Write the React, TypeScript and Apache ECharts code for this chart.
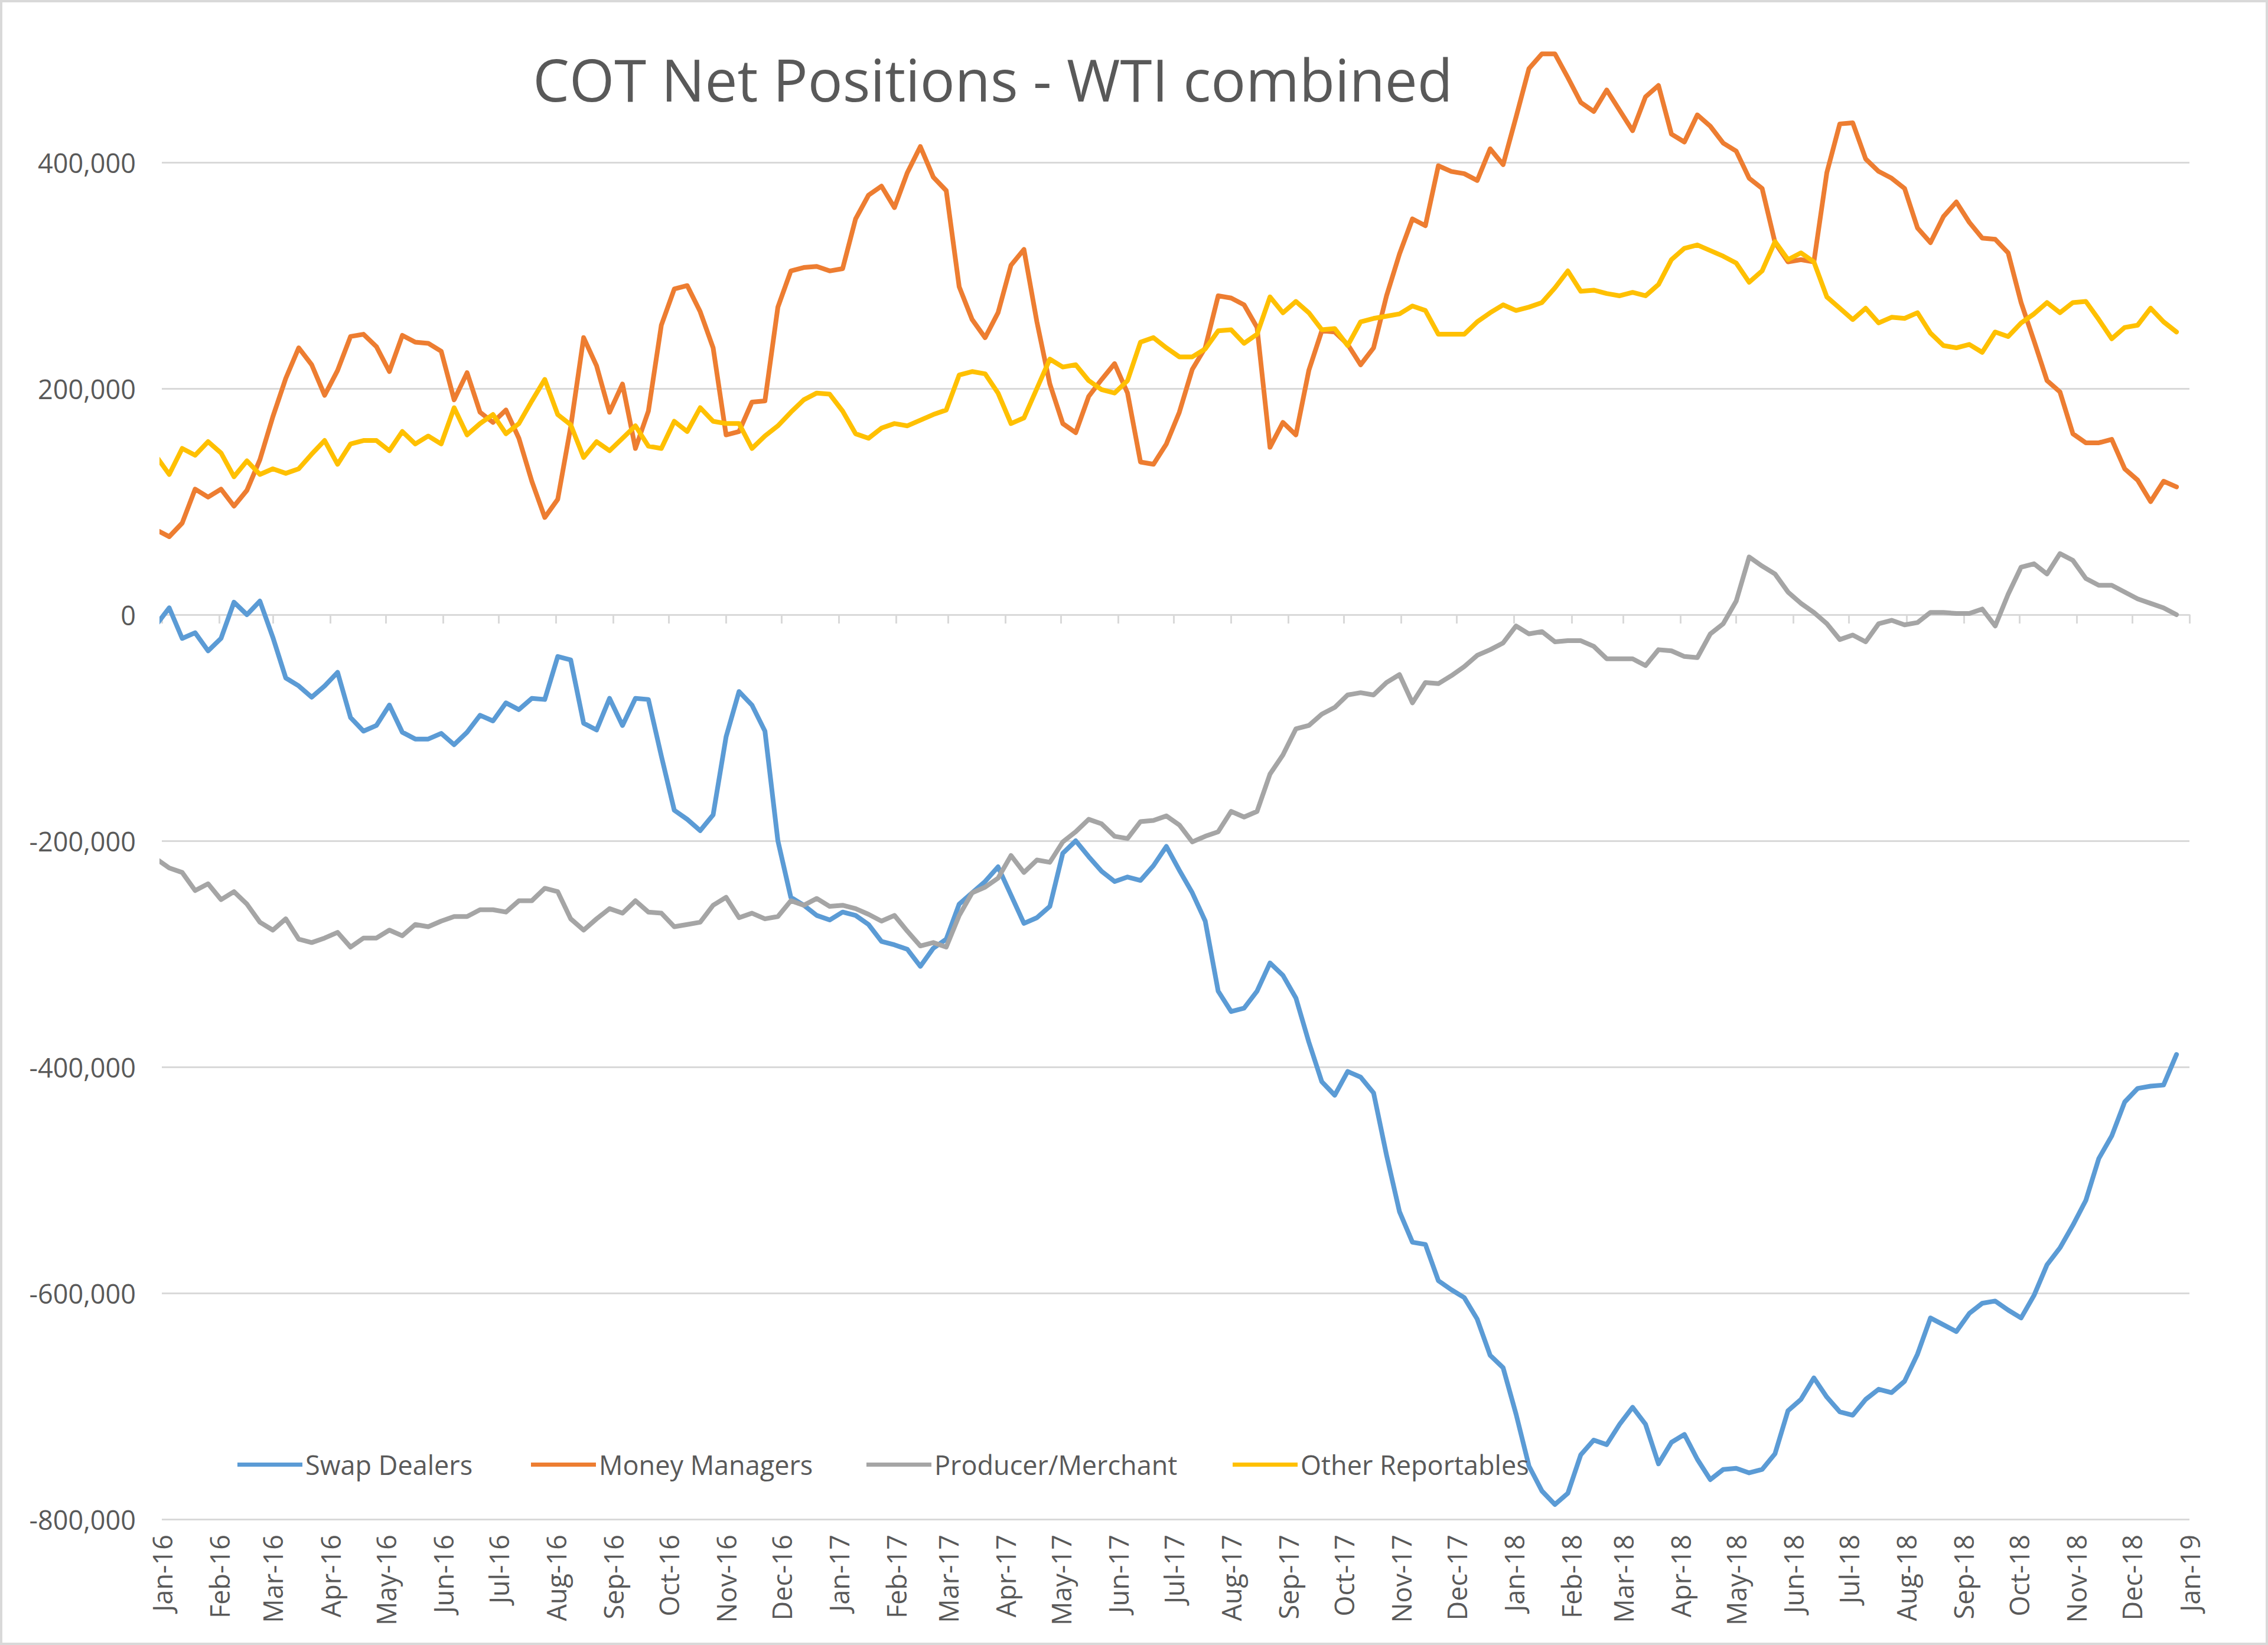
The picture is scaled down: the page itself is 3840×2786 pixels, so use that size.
import React, { useEffect, useRef } from 'react';
import * as echarts from 'echarts';

// ---- data (values in thousands of contracts, weekly from 29 Dec 2015) ----
const seriesNames = ['Swap Dealers', 'Money Managers', 'Producer/Merchant', 'Other Reportables'];
const seriesColors = ['#5B9BD5', '#ED7D31', '#A5A5A5', '#FFC000'];
const firstWeek = [2015, 11, 29];
const weekCount = 157;

const swapDealers = [
  -9, 6, -21, -16, -32, -21, 11, 0, 12, -20,
  -56, -63, -73, -63, -51, -91, -103, -98, -80, -104,
  -110, -110, -105, -115, -104, -89, -94, -78, -84, -74,
  -75, -37, -40, -96, -102, -74, -98, -74, -75, -125,
  -173, -181, -191, -177, -108, -68, -80, -103, -200, -250,
  -257, -266, -270, -263, -266, -274, -289, -292, -296, -311,
  -295, -287, -256, -246, -236, -223, -248, -273, -268, -258,
  -211, -200, -214, -227, -236, -232, -235, -222, -205, -226,
  -246, -271, -333, -351, -348, -333, -308, -319, -339, -378,
  -413, -425, -404, -409, -423, -478, -528, -555, -557, -589,
  -597, -604, -623, -655, -666, -707, -753, -775, -787, -777,
  -743, -730, -734, -716, -701, -716, -751, -732, -725, -747,
  -765, -756, -755, -759, -756, -742, -704, -694, -675, -692,
  -705, -708, -694, -685, -688, -678, -654, -622, -628, -634,
  -618, -609, -607, -615, -622, -602, -575, -560, -540, -518,
  -481, -461, -431, -419, -417, -416, -389,
];

const moneyManagers = [
  75, 69, 81, 111, 104, 111, 96, 110, 137, 175,
  209, 236, 221, 194, 216, 246, 248, 237, 215, 247,
  241, 240, 233, 190, 214, 179, 170, 181, 156, 118,
  86, 102, 166, 245, 220, 179, 204, 147, 180, 256,
  288, 291, 268, 236, 159, 162, 188, 189, 272, 304,
  307, 308, 304, 306, 350, 371, 379, 360, 391, 414,
  387, 375, 290, 261, 245, 267, 309, 323, 259, 204,
  169, 161, 193, 208, 222, 196, 135, 133, 151, 179,
  217, 236, 282, 280, 274, 254, 148, 170, 159, 216,
  251, 250, 239, 221, 236, 282, 319, 350, 344, 397,
  392, 390, 384, 412, 398, 440, 483, 496, 496, 475,
  453, 445, 464, 446, 428, 458, 468, 425, 418, 442,
  432, 417, 410, 386, 377, 329, 312, 314, 312, 391,
  434, 435, 403, 392, 386, 377, 342, 329, 352, 365,
  347, 333, 332, 320, 276, 242, 207, 197, 160, 152,
  152, 155, 129, 119, 100, 118, 113,
];

const producerMerchant = [
  -216, -224, -228, -244, -238, -252, -245, -256, -272, -279,
  -269, -287, -290, -286, -281, -294, -286, -286, -279, -284,
  -274, -276, -271, -267, -267, -261, -261, -263, -253, -253,
  -242, -245, -269, -279, -269, -260, -264, -253, -263, -264,
  -276, -274, -272, -257, -250, -268, -264, -269, -267, -253,
  -257, -251, -258, -257, -260, -265, -271, -266, -280, -293,
  -290, -294, -266, -246, -241, -233, -213, -228, -217, -219,
  -201, -192, -181, -185, -196, -198, -183, -182, -178, -186,
  -201, -196, -192, -174, -179, -174, -141, -124, -101, -98,
  -88, -82, -71, -69, -71, -60, -53, -78, -60, -61,
  -54, -46, -36, -31, -25, -10, -17, -15, -24, -23,
  -23, -28, -39, -39, -39, -45, -31, -32, -37, -38,
  -17, -8, 12, 51, 43, 36, 20, 10, 2, -8,
  -22, -18, -24, -8, -5, -9, -7, 2, 2, 1,
  1, 5, -10, 18, 42, 45, 36, 54, 48, 32,
  26, 26, 20, 14, 10, 6, 0,
];

const otherReportables = [
  140, 124, 147, 141, 153, 143, 122, 136, 124, 129,
  125, 129, 142, 154, 133, 151, 154, 154, 145, 162,
  151, 158, 151, 183, 159, 169, 177, 160, 169, 189,
  208, 177, 168, 139, 153, 145, 156, 167, 149, 147,
  171, 162, 183, 171, 169, 169, 147, 158, 167, 179,
  190, 196, 195, 180, 160, 156, 165, 169, 167, 172,
  177, 181, 212, 215, 213, 196, 169, 174, 200, 226,
  219, 221, 207, 199, 196, 207, 241, 245, 236, 228,
  228, 235, 251, 252, 240, 248, 281, 267, 277, 267,
  252, 253, 238, 259, 262, 264, 266, 273, 269, 248,
  248, 248, 259, 267, 274, 269, 272, 276, 289, 304,
  286, 287, 284, 282, 285, 282, 292, 314, 324, 327,
  322, 317, 311, 294, 304, 330, 314, 320, 312, 281,
  271, 261, 271, 258, 263, 262, 267, 249, 238, 236,
  239, 232, 250, 246, 258, 266, 276, 267, 276, 277,
  261, 244, 254, 256, 271, 259, 250,
];

const monthLabels = ['Jan', 'Feb', 'Mar', 'Apr', 'May', 'Jun', 'Jul', 'Aug', 'Sep', 'Oct', 'Nov', 'Dec'];
const yMin = -800000;
const yMax = 500000;
const yStep = 200000;
const titleText = 'COT Net Positions - WTI combined';

const FONT = 'Open Sans';
const TEXT_COLOR = '#595959';
const GRID_COLOR = '#d9d9d9';
const DAY = 86400000;

export default function App() {
  const ref = useRef<HTMLDivElement>(null);

  useEffect(() => {
    document.body.style.margin = '0';
    const chart = echarts.init(ref.current as HTMLDivElement, null, { renderer: 'svg' });

    const times = Array.from({ length: weekCount }, (_, i) =>
      new Date(firstWeek[0], firstWeek[1], firstWeek[2] + 7 * i).getTime()
    );
    const allValues = [swapDealers, moneyManagers, producerMerchant, otherReportables];
    const xMin = new Date(2016, 0, 1).getTime();
    const xMax = new Date(2019, 0, 1).getTime();

    const tickCount = Math.round((yMax - yMin) / yStep) + 1;
    const splitColors = Array.from({ length: tickCount + 1 }, (_, k) =>
      yMin + k * yStep <= 400000 ? GRID_COLOR : 'rgba(0,0,0,0)'
    );

    const legendLefts = [397, 894, 1462, 2082];

    const timeAxisBase = {
      type: 'time' as const,
      min: xMin,
      max: xMax,
      splitNumber: 36,
      minInterval: 28 * DAY,
      maxInterval: 31 * DAY,
      splitLine: { show: false },
    };

    const option: any = {
      animation: false,
      backgroundColor: '#ffffff',
      textStyle: { fontFamily: FONT },
      grid: { left: 274, right: 133, top: 83.5, bottom: 213, containLabel: false },
      xAxis: [
        {
          ...timeAxisBase,
          position: 'bottom',
          axisLine: { show: false, onZero: false },
          axisTick: { show: false },
          axisLabel: {
            rotate: 90,
            margin: 26,
            fontSize: 45,
            color: TEXT_COLOR,
            fontFamily: FONT,
            hideOverlap: false,
            showMinLabel: true,
            showMaxLabel: true,
            formatter: (v: number) => {
              const d = new Date(v);
              return monthLabels[d.getMonth()] + '-' + String(d.getFullYear()).slice(2);
            },
          },
        },
        {
          ...timeAxisBase,
          position: 'top',
          axisLine: { show: true, onZero: true, lineStyle: { color: GRID_COLOR, width: 3 } },
          axisTick: { show: true, inside: true, length: 15, lineStyle: { color: GRID_COLOR, width: 3 } },
          axisLabel: { show: false },
        },
      ],
      yAxis: {
        type: 'value',
        min: yMin,
        max: yMax,
        interval: yStep,
        axisLine: { show: false },
        axisTick: { show: false },
        axisLabel: {
          showMaxLabel: false,
          margin: 44,
          fontSize: 45,
          color: TEXT_COLOR,
          fontFamily: FONT,
          formatter: (v: number) => (v > 400000 ? '' : v.toLocaleString('en-US')),
        },
        splitLine: { show: true, lineStyle: { color: splitColors, width: 3 } },
      },
      legend: seriesNames.map((name, k) => ({
        data: [name],
        left: legendLefts[k],
        top: 2453,
        icon: 'rect',
        itemWidth: 110,
        itemHeight: 7,
        itemGap: 0,
        selectedMode: false,
        textStyle: { fontSize: 45, color: TEXT_COLOR, fontFamily: FONT },
      })),
      graphic: [
        {
          type: 'rect',
          silent: true,
          shape: { x: 2, y: 2, width: 3836, height: 2782 },
          style: { fill: 'none', stroke: GRID_COLOR, lineWidth: 4 },
          z: -1,
        },
        {
          type: 'text',
          silent: true,
          x: 1681,
          y: 134,
          style: {
            text: titleText,
            fontSize: 98,
            fontFamily: FONT,
            fill: TEXT_COLOR,
            align: 'center',
            verticalAlign: 'middle',
          },
        },
      ],
      series: seriesNames.map((name, k) => ({
        name,
        type: 'line',
        xAxisIndex: 0,
        yAxisIndex: 0,
        showSymbol: false,
        symbol: 'none',
        color: seriesColors[k],
        lineStyle: { color: seriesColors[k], width: 8, join: 'round', cap: 'round' },
        data: times.map((t, i) => [t, allValues[k][i] * 1000]),
      })),
    };

    chart.setOption(option);
    return () => chart.dispose();
  }, []);

  return <div ref={ref} style={{ width: 3840, height: 2786 }} />;
}
